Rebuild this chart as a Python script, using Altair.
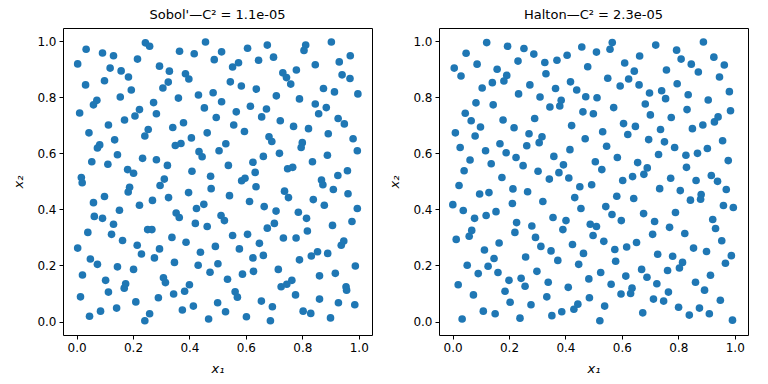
import altair as alt
import pandas as pd

# Sobol' points (x1, x2)
sobol_x = [0.004,0.034,0.092,0.131,0.119,0.158,0.184,0.216,0.244,0.259,0.294,0.329,0.365,0.417,0.457,0.514,0.488,0.386,0.398,0.325,
           0.306,0.099,0.032,0.194,0.155,0.072,0.060,0.011,0.223,0.207,0.170,0.113,0.273,0.283,0.361,0.432,0.484,0.453,0.495,0.044,
           0.254,0.242,0.341,0.379,0.463,0.407,0.135,0.082,0.074,0.145,0.054,0.111,0.234,0.283,0.322,0.181,0.202,0.017,0.311,0.409,
           0.475,0.350,0.370,0.434,0.445,0.505,
           0.606,0.676,0.698,0.645,0.553,0.574,0.545,0.584,0.637,0.731,0.744,0.759,0.779,0.812,0.806,0.846,0.903,0.931,0.970,0.941,
           0.969,0.875,0.914,0.997,0.708,0.790,0.846,0.885,0.858,0.514,0.616,0.566,0.673,0.656,0.557,0.595,0.722,0.769,0.822,0.927,
           0.949,0.892,0.980,0.995,0.682,0.692,0.800,0.796,0.529,0.662,0.719,0.625,0.538,0.633,0.748,0.766,0.836,0.889,0.926,0.960,
           0.868,0.873,0.585,0.597,
           0.020,0.188,0.183,0.296,0.477,0.397,0.326,0.269,0.223,0.099,0.060,0.152,0.063,0.092,0.131,0.040,0.124,0.163,0.252,0.267,
           0.353,0.364,0.425,0.451,0.421,0.463,0.512,0.004,0.049,0.074,0.215,0.230,0.276,0.294,0.338,0.388,0.439,0.492,0.431,0.347,
           0.501,0.473,0.021,0.145,0.202,0.103,0.174,0.169,0.113,0.308,0.315,0.344,0.383,0.400,0.014,0.210,0.290,0.500,0.046,0.085,
           0.142,0.259,0.242,0.375,0.414,0.468,
           0.636,0.542,0.613,0.665,0.707,0.737,0.751,0.786,0.815,0.839,0.910,0.962,0.878,0.995,0.976,0.907,0.524,0.676,0.701,0.553,
           0.606,0.648,0.733,0.778,0.818,0.577,0.625,0.662,0.790,0.832,0.854,0.890,0.938,0.947,0.988,0.715,0.627,0.588,0.535,0.861,
           0.917,0.725,0.745,0.763,0.776,0.562,0.570,0.655,0.694,0.528,0.602,0.687,0.803,0.830,0.861,0.900,0.928,0.955,0.957,0.986]
sobol_y = [0.919,0.971,0.958,0.948,0.904,0.894,0.872,0.936,0.994,0.982,0.911,0.893,0.964,0.955,0.997,0.962,0.934,0.884,0.865,0.854,
           0.833,0.859,0.844,0.826,0.801,0.789,0.773,0.744,0.756,0.733,0.719,0.701,0.781,0.741,0.797,0.808,0.816,0.762,0.728,0.673,
           0.685,0.662,0.692,0.709,0.673,0.655,0.648,0.630,0.619,0.595,0.570,0.561,0.582,0.577,0.557,0.542,0.529,0.514,0.508,0.536,
           0.518,0.628,0.635,0.606,0.588,0.609,
           0.975,0.986,0.943,0.932,0.908,0.923,0.855,0.840,0.829,0.887,0.870,0.847,0.897,0.986,0.967,0.916,0.997,0.926,0.948,0.880,
           0.867,0.831,0.819,0.812,0.805,0.794,0.776,0.763,0.741,0.784,0.768,0.748,0.758,0.730,0.701,0.678,0.716,0.696,0.688,0.724,
           0.705,0.670,0.652,0.609,0.659,0.642,0.638,0.621,0.634,0.589,0.600,0.568,0.557,0.532,0.545,0.550,0.570,0.593,0.521,0.538,
           0.505,0.488,0.502,0.511,
           0.495,0.479,0.462,0.485,0.474,0.460,0.442,0.432,0.415,0.446,0.424,0.397,0.375,0.368,0.347,0.318,0.311,0.289,0.328,0.328,
           0.387,0.371,0.403,0.418,0.350,0.339,0.378,0.262,0.223,0.204,0.272,0.241,0.227,0.259,0.300,0.283,0.247,0.268,0.201,0.211,
           0.206,0.176,0.166,0.195,0.186,0.147,0.135,0.119,0.105,0.156,0.139,0.098,0.108,0.131,0.088,0.070,0.085,0.067,0.019,0.037,
           0.048,0.028,0.003,0.041,0.055,0.009,
           0.481,0.449,0.428,0.410,0.394,0.465,0.442,0.390,0.368,0.435,0.471,0.456,0.415,0.403,0.357,0.343,0.360,0.333,0.350,0.307,
           0.311,0.279,0.298,0.298,0.323,0.259,0.227,0.236,0.220,0.234,0.249,0.243,0.272,0.287,0.198,0.186,0.179,0.169,0.151,0.163,
           0.172,0.124,0.133,0.147,0.095,0.106,0.087,0.073,0.053,0.035,0.017,0.003,0.037,0.029,0.080,0.013,0.067,0.124,0.112,0.060]

# Halton points (x1, x2)
halton_x = [0.121,0.048,0.006,0.030,0.087,0.158,0.195,0.253,0.288,0.232,0.192,0.182,0.141,0.105,0.327,0.370,0.406,0.458,0.510,0.479,
            0.331,0.274,0.234,0.310,0.365,0.418,0.440,0.472,0.512,0.385,0.380,0.345,0.083,0.144,0.045,0.066,0.099,0.179,0.218,0.291,
            0.271,0.317,0.307,0.263,0.422,0.462,0.499,0.010,0.080,0.027,0.168,0.117,0.190,0.062,0.041,0.137,0.225,0.250,0.303,0.175,
            0.343,0.359,0.393,0.377,0.416,0.470,0.412,0.506,
            0.566,0.558,0.610,0.663,0.720,0.644,0.624,0.550,0.594,0.661,0.698,0.741,0.755,0.758,0.794,0.810,0.846,0.871,0.889,0.926,
            0.963,0.946,0.796,0.835,0.906,0.981,0.985,0.571,0.683,0.701,0.775,0.831,0.606,0.648,0.621,0.532,0.737,0.695,0.751,0.787,
            0.850,0.887,0.928,0.941,0.957,0.546,0.529,0.584,0.656,0.690,0.678,0.638,0.603,0.730,0.773,0.827,0.868,0.903,0.829,0.917,
            0.939,0.863,0.977,
            0.023,0.096,0.129,0.214,0.266,0.451,0.493,0.001,0.038,0.078,0.119,0.154,0.212,0.320,0.433,0.455,0.227,0.221,0.281,0.356,
            0.402,0.391,0.488,0.498,0.068,0.059,0.013,0.165,0.113,0.147,0.294,0.313,0.349,0.373,0.425,0.464,0.447,0.259,0.052,0.091,
            0.126,0.161,0.200,0.243,0.257,0.299,0.339,0.410,0.483,0.020,0.074,0.186,0.204,0.278,0.334,0.444,0.430,0.485,0.109,0.151,
            0.034,0.239,0.352,0.387,0.522,
            0.734,0.807,0.970,0.582,0.642,0.843,0.881,0.879,0.960,0.995,0.543,0.565,0.598,0.677,0.716,0.790,0.769,0.823,0.922,0.932,
            0.510,0.536,0.575,0.617,0.652,0.709,0.578,0.727,0.780,0.815,0.804,0.762,0.854,0.900,0.988,0.967,0.954,0.670,0.689,0.724,
            0.614,0.525,0.562,0.597,0.636,0.631,0.539,0.674,0.712,0.748,0.765,0.861,0.914,0.893,0.949,0.801,0.839,0.875,0.910,0.992]
halton_y = [0.995,0.957,0.904,0.876,0.918,0.900,0.982,0.974,0.954,0.929,0.878,0.858,0.852,0.833,0.924,0.932,0.950,0.979,0.961,0.909,
            0.884,0.844,0.812,0.801,0.831,0.855,0.826,0.802,0.798,0.789,0.769,0.765,0.780,0.773,0.743,0.716,0.694,0.719,0.691,0.724,
            0.670,0.659,0.638,0.627,0.699,0.748,0.741,0.673,0.662,0.621,0.634,0.609,0.602,0.576,0.538,0.563,0.585,0.556,0.536,0.514,
            0.508,0.589,0.559,0.531,0.613,0.652,0.512,0.570,
            0.995,0.971,0.922,0.947,0.986,0.893,0.865,0.868,0.840,0.844,0.815,0.823,0.795,0.897,0.968,0.936,0.918,0.890,0.997,0.943,
            0.915,0.872,0.848,0.809,0.790,0.820,0.752,0.763,0.776,0.737,0.728,0.756,0.706,0.696,0.667,0.677,0.685,0.649,0.641,0.621,
            0.688,0.701,0.712,0.730,0.645,0.625,0.542,0.585,0.567,0.548,0.525,0.517,0.503,0.596,0.511,0.593,0.600,0.617,0.550,0.521,
            0.500,0.503,0.574,
            0.485,0.455,0.460,0.473,0.463,0.481,0.488,0.417,0.396,0.368,0.378,0.392,0.421,0.428,0.442,0.403,0.353,0.318,0.341,0.371,
            0.360,0.328,0.347,0.307,0.325,0.304,0.293,0.280,0.255,0.225,0.300,0.268,0.252,0.218,0.275,0.243,0.204,0.230,0.201,0.171,
            0.197,0.175,0.147,0.154,0.126,0.179,0.140,0.122,0.152,0.131,0.095,0.108,0.069,0.060,0.088,0.062,0.044,0.085,0.037,0.028,
            0.009,0.012,0.021,0.035,0.003,
            0.474,0.467,0.471,0.447,0.439,0.433,0.453,0.436,0.414,0.407,0.410,0.382,0.360,0.385,0.357,0.389,0.336,0.314,0.364,0.332,
            0.339,0.286,0.257,0.266,0.282,0.311,0.215,0.240,0.233,0.211,0.191,0.182,0.262,0.250,0.235,0.208,0.288,0.186,0.158,0.135,
            0.162,0.175,0.133,0.098,0.119,0.100,0.055,0.031,0.080,0.073,0.105,0.140,0.165,0.112,0.076,0.051,0.023,0.048,0.028,0.005]

titles = ["Sobol'\u2014C\u00b2 = 1.1e-05", "Halton\u2014C\u00b2 = 2.3e-05"]
tick_values = [0.0, 0.2, 0.4, 0.6, 0.8, 1.0]
FONT = "DejaVu Sans"


def panel(xs, ys, title):
    df = pd.DataFrame({"x1": xs, "x2": ys})
    return alt.Chart(df).mark_circle(size=58, color="#1f77b4", opacity=1).encode(
        x=alt.X("x1:Q",
                scale=alt.Scale(domain=[-0.048, 1.047], nice=False, zero=False),
                axis=alt.Axis(values=tick_values, format=".1f", title="x\u2081", titlePadding=9)),
        y=alt.Y("x2:Q",
                scale=alt.Scale(domain=[-0.048, 1.047], nice=False, zero=False),
                axis=alt.Axis(values=tick_values, format=".1f", title="x\u2082", titlePadding=11)),
    ).properties(width=309, height=307, title=title)


chart = alt.hconcat(
    panel(sobol_x, sobol_y, titles[0]),
    panel(halton_x, halton_y, titles[1]),
    spacing=15,
).properties(
    padding={"left": 4, "top": 0, "right": 0, "bottom": 0}
).configure_view(
    stroke="black", strokeWidth=1
).configure_axis(
    grid=False, domain=False, tickColor="black", tickSize=4, labelPadding=3,
    labelColor="black", labelFont=FONT, labelFontSize=12,
    titleFont=FONT, titleFontSize=13, titleFontWeight="normal", titleFontStyle="italic",
    titleColor="black",
).configure_title(
    font=FONT, fontSize=13, fontWeight="normal", color="black", offset=6
)

chart.save("out.html", embed_options={"renderer": "svg", "actions": False})
